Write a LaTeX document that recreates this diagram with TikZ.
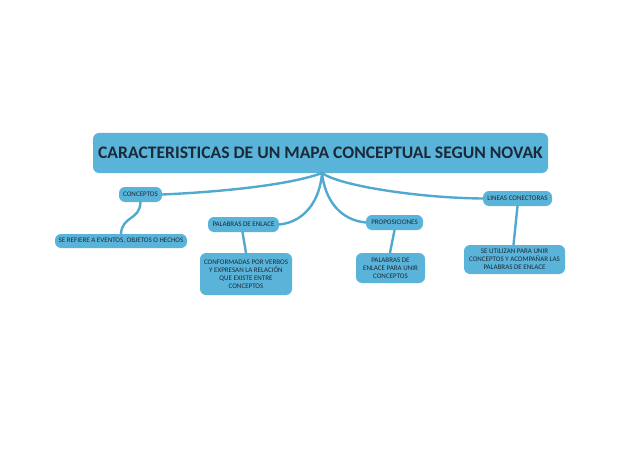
\documentclass[tikz,border=0pt]{standalone}
\usepackage{fontspec}
\setmainfont{Carlito}
\definecolor{boxfill}{HTML}{5AB3D9}
\definecolor{linec}{HTML}{52A9D0}
\definecolor{txt}{HTML}{1B2A38}
\begin{document}
\begin{tikzpicture}[x=1pt,y=-1pt,
  box/.style={fill=boxfill,rounded corners=6pt,text=txt,align=center,inner sep=0pt,font=\fontsize{7}{8}\selectfont},
  conn/.style={draw=linec,line width=2.4pt,line cap=round}]
\useasboundingbox (0,0) rectangle (638,452);
\node[box,rounded corners=6pt,minimum width=455pt,minimum height=40pt,font=\fontsize{17.6}{20}\bfseries\selectfont] (main) at (320.5,153) {CARACTERISTICAS DE UN MAPA CONCEPTUAL SEGUN NOVAK};
\coordinate (hub) at (322,173);
\node[box,minimum width=43pt,minimum height=15pt] (conc) at (140.5,194.5) {CONCEPTOS};
\node[box,minimum width=132pt,minimum height=14pt] (seref) at (121,241) {SE REFIERE A EVENTOS, OBJETOS O HECHOS};
\node[box,minimum width=71pt,minimum height=15pt] (pal) at (243.5,224.5) {PALABRAS DE ENLACE};
\node[box,minimum width=92pt,minimum height=42pt] (conf) at (246,274) {CONFORMADAS POR VERBOS\\Y EXPRESAN LA RELACIÓN\\QUE EXISTE ENTRE\\CONCEPTOS};
\node[box,minimum width=57pt,minimum height=15pt] (prop) at (394.5,222.5) {PROPOSICIONES};
\node[box,minimum width=69pt,minimum height=30pt] (palu) at (390.5,268) {PALABRAS DE\\ENLACE PARA UNIR\\CONCEPTOS};
\node[box,minimum width=69pt,minimum height=15pt] (lin) at (517.5,198.5) {LINEAS CONECTORAS};
\node[box,minimum width=101pt,minimum height=29pt] (util) at (514.5,259.5) {SE UTILIZAN PARA UNIR\\CONCEPTOS Y ACOMPAÑAR LAS\\PALABRAS DE ENLACE};
\draw[conn] (hub) .. controls (290,185) and (220,192) .. (conc.east);
\draw[conn] (hub) .. controls (320,200) and (305,222) .. (pal.east);
\draw[conn] (hub) .. controls (325,200) and (340,220) .. (prop.west);
\draw[conn] (hub) .. controls (340,186) and (420,198) .. (lin.west);
\draw[conn] (conc.south) .. controls (140,220) and (122,216) .. (seref.north);
\draw[conn] ([xshift=-1pt]pal.south) -- (conf.north);
\draw[conn] (prop.south) -- ([xshift=-0.5pt]palu.north);
\draw[conn] (lin.south) -- ([xshift=-1pt]util.north);
\end{tikzpicture}
\end{document}
